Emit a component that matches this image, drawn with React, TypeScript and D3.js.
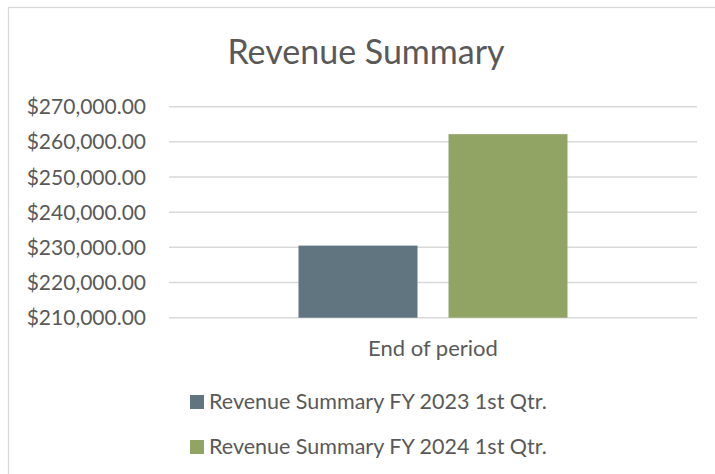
import { useRef, useEffect } from "react";
import * as d3 from "d3";

// chart data
const categories = ["End of period"];
const seriesNames = [
  "Revenue Summary FY 2023 1st Qtr.",
  "Revenue Summary FY 2024 1st Qtr.",
];
const seriesValues = [230500, 262200];
const seriesColors = ["#607580", "#92a464"];
const yTicks = [210000, 220000, 230000, 240000, 250000, 260000, 270000];

const WIDTH = 715;
const HEIGHT = 474;
const FONT = "Lato, 'Open Sans', sans-serif";
const TEXT = "#595959";
const GRID = "#d9d9d9";

const App = () => {
  const svgRef = useRef<SVGSVGElement>(null);

  useEffect(() => {
    const svg = d3.select(svgRef.current);
    svg.selectAll("*").remove();

    const plot = { left: 169, right: 697, top: 106.7, bottom: 317.7 };

    // chart border (only left and top show in the crop)
    svg
      .append("rect")
      .attr("x", 8.5)
      .attr("y", 7.5)
      .attr("width", WIDTH)
      .attr("height", HEIGHT)
      .attr("fill", "white")
      .attr("stroke", GRID)
      .attr("stroke-width", 1.3);

    svg
      .append("text")
      .attr("x", 366)
      .attr("y", 64)
      .attr("text-anchor", "middle")
      .attr("fill", TEXT)
      .style("font-family", FONT)
      .style("font-size", "34px")
      .text("Revenue Summary");

    const yScale = d3
      .scaleLinear()
      .domain([yTicks[0], yTicks[yTicks.length - 1]])
      .range([plot.bottom, plot.top]);

    const xScale = d3
      .scaleBand()
      .domain(categories)
      .range([plot.left, plot.right])
      .paddingInner(0)
      .paddingOuter(0.4814);

    const inner = d3
      .scaleBand()
      .domain(seriesNames)
      .range([0, xScale.bandwidth()])
      .paddingInner(0.2067)
      .paddingOuter(0);

    const fmt = d3.format("$,.2f");

    // gridlines
    svg
      .append("g")
      .selectAll("line")
      .data(yTicks)
      .join("line")
      .attr("x1", plot.left)
      .attr("x2", plot.right)
      .attr("y1", (d) => yScale(d))
      .attr("y2", (d) => yScale(d))
      .attr("stroke", GRID)
      .attr("stroke-width", 1.5);

    // y labels
    svg
      .append("g")
      .selectAll("text")
      .data(yTicks)
      .join("text")
      .attr("x", 146)
      .attr("y", (d) => yScale(d))
      .attr("dy", "0.36em")
      .attr("text-anchor", "end")
      .attr("fill", TEXT)
      .style("font-family", FONT)
      .style("font-size", "21px")
      .text((d) => fmt(d));

    // bars
    svg
      .append("g")
      .selectAll("rect")
      .data(seriesValues)
      .join("rect")
      .attr("x", (_, i) => (xScale(categories[0]) ?? 0) + (inner(seriesNames[i]) ?? 0))
      .attr("y", (d) => yScale(d))
      .attr("width", inner.bandwidth())
      .attr("height", (d) => yScale(yTicks[0]) - yScale(d))
      .attr("fill", (_, i) => seriesColors[i]);

    // category label
    svg
      .append("text")
      .attr("x", (xScale(categories[0]) ?? 0) + xScale.bandwidth() / 2)
      .attr("y", 356)
      .attr("text-anchor", "middle")
      .attr("fill", TEXT)
      .style("font-family", FONT)
      .style("font-size", "22px")
      .text(categories[0]);

    // legend
    const legend = svg
      .append("g")
      .selectAll("g")
      .data(seriesNames)
      .join("g")
      .attr("transform", (_, i) => `translate(190, ${395 + i * 45})`);

    legend
      .append("rect")
      .attr("width", 14)
      .attr("height", 14)
      .attr("fill", (_, i) => seriesColors[i]);

    legend
      .append("text")
      .attr("x", 19)
      .attr("y", 13.5)
      .attr("fill", TEXT)
      .style("font-family", FONT)
      .style("font-size", "21.5px")
      .text((d) => d);
  }, []);

  return (
    <svg
      ref={svgRef}
      width={WIDTH}
      height={HEIGHT}
      style={{ position: "absolute", left: 0, top: 0, background: "white" }}
    ></svg>
  );
};

export default App;
